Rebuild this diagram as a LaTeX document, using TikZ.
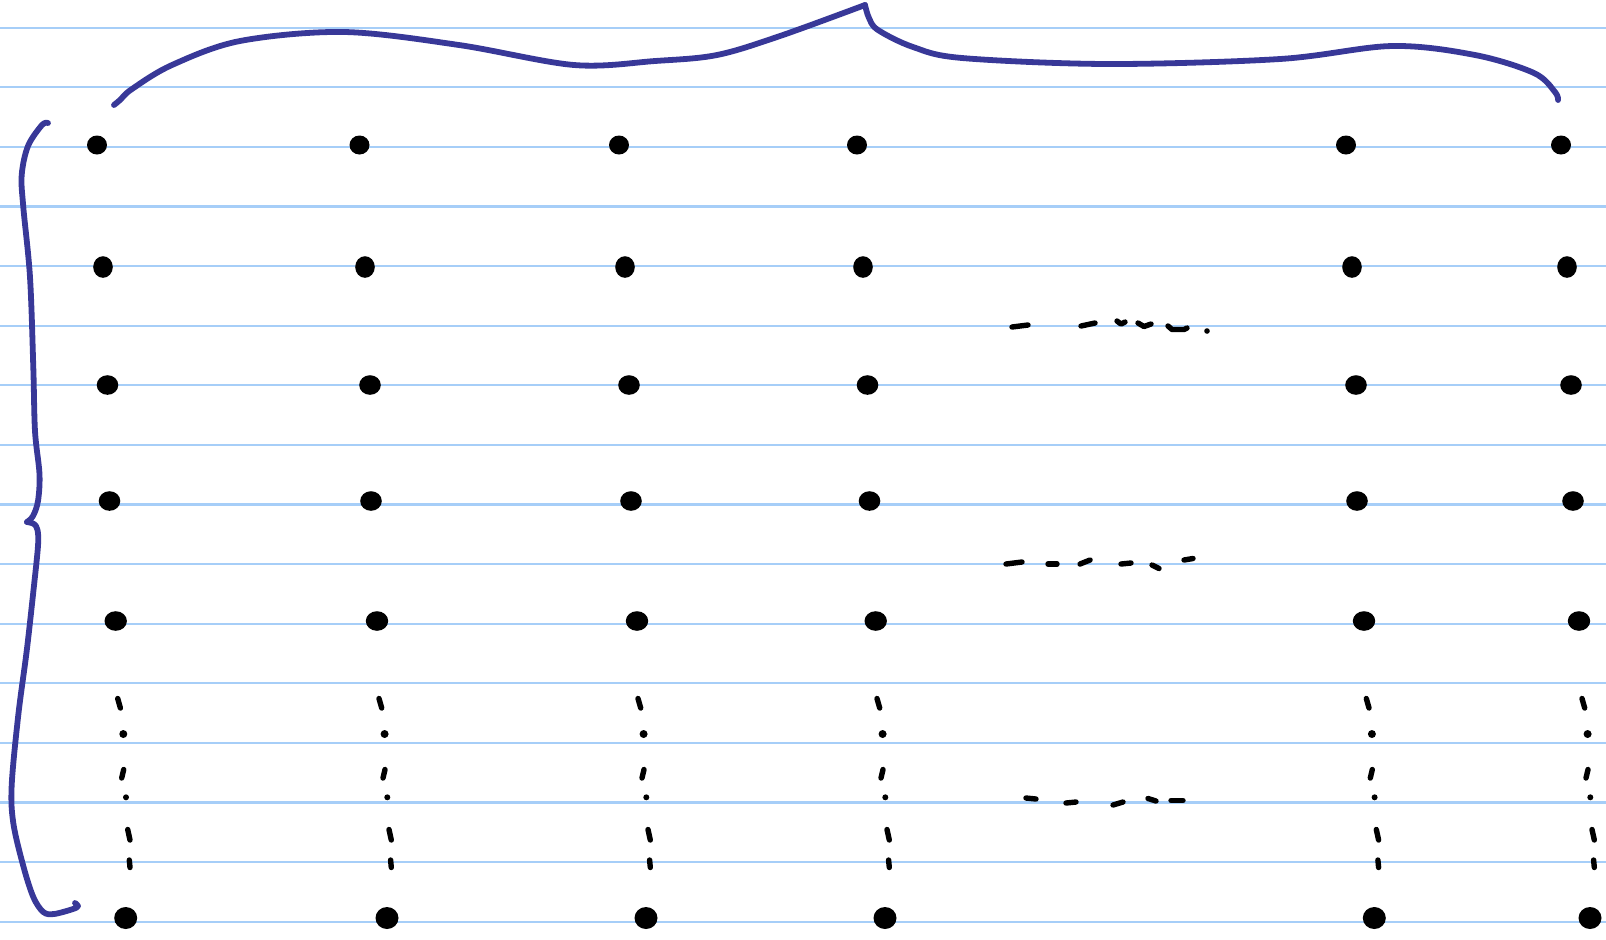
\documentclass[tikz,border=0pt]{standalone}
\usetikzlibrary{shapes.geometric}
\definecolor{rule}{RGB}{166,206,248}
\definecolor{ink}{RGB}{56,56,152}
\begin{document}
\begin{tikzpicture}[x=0.5pt,y=-0.5pt,
  ruleline/.style={draw=rule,line width=1.1pt},
  bracepath/.style={draw=ink,line width=2.9pt,line cap=round,line join=round},
  bigdot/.style 2 args={ellipse,fill=black,draw=none,inner sep=0pt,minimum width=#1,minimum height=#2},
  penmark/.style={draw=black,line width=2.7pt,line cap=round,line join=round}]
\useasboundingbox (0,0) rectangle (1606,939);
\fill[white] (0,0) rectangle (1606,939);
% ruled paper
\foreach \k in {0,...,15}
  \draw[ruleline] (0,{27.7+59.6*\k}) -- (1606,{27.7+59.6*\k});
% top brace
\draw[bracepath] plot[smooth,tension=0.55] coordinates {(114,105) (120,100) (132,89) (172,65) (240,41) (344,32) (459,45) (574,65) (655,61) (717,55) (780,36) (865,5)};
\draw[bracepath] plot[smooth,tension=0.55] coordinates {(865,5) (869,18) (878,30) (913,47) (962,58) (1108,64) (1280,59) (1392,46) (1475,55) (1534,73) (1555,92) (1558,100)};
% left brace
\draw[bracepath] plot[smooth,tension=0.55] coordinates {(48,123) (42,125) (28,146) (21.7,175) (23.3,207) (30,277) (33.3,367) (35,431) (39.5,474) (38,501) (33,516) (27,522)};
\draw[bracepath] plot[smooth,tension=0.55] coordinates {(27,522) (34,524) (37.5,530) (38,546) (33.3,592) (26.7,651) (18.3,715) (11.7,785) (13.3,823) (23.3,866) (33.3,897) (43.3,912) (54,914) (73,909) (78,906) (75,903)};
% dots, row 1
\node[bigdot={10pt}{9.5pt}] (r1c1) at (97,145) {};
\node[bigdot={10pt}{9.5pt}] (r1c2) at (359.5,145) {};
\node[bigdot={10pt}{9.5pt}] (r1c3) at (619,145) {};
\node[bigdot={10pt}{9.5pt}] (r1c4) at (857,145) {};
\node[bigdot={10pt}{9.5pt}] (r1c5) at (1346,145) {};
\node[bigdot={10pt}{9.5pt}] (r1c6) at (1561,145) {};
% row 2
\node[bigdot={9.8pt}{10.8pt}] (r2c1) at (103,267) {};
\node[bigdot={9.8pt}{10.8pt}] (r2c2) at (365,267) {};
\node[bigdot={9.8pt}{10.8pt}] (r2c3) at (625,267) {};
\node[bigdot={9.8pt}{10.8pt}] (r2c4) at (863,267) {};
\node[bigdot={9.8pt}{10.8pt}] (r2c5) at (1352,267) {};
\node[bigdot={9.8pt}{10.8pt}] (r2c6) at (1567,267) {};
% row 3
\node[bigdot={10.8pt}{9.8pt}] (r3c1) at (107.5,385) {};
\node[bigdot={10.8pt}{9.8pt}] (r3c2) at (370,385) {};
\node[bigdot={10.8pt}{9.8pt}] (r3c3) at (629,385) {};
\node[bigdot={10.8pt}{9.8pt}] (r3c4) at (867.5,385) {};
\node[bigdot={10.8pt}{9.8pt}] (r3c5) at (1356,385) {};
\node[bigdot={10.8pt}{9.8pt}] (r3c6) at (1571,385) {};
% row 4
\node[bigdot={10.8pt}{9.8pt}] (r4c1) at (109.5,501) {};
\node[bigdot={10.8pt}{9.8pt}] (r4c2) at (371,501) {};
\node[bigdot={10.8pt}{9.8pt}] (r4c3) at (631,501) {};
\node[bigdot={10.8pt}{9.8pt}] (r4c4) at (869.5,501) {};
\node[bigdot={10.8pt}{9.8pt}] (r4c5) at (1357,501) {};
\node[bigdot={10.8pt}{9.8pt}] (r4c6) at (1573,501) {};
% row 5
\node[bigdot={11.2pt}{9.8pt}] (r5c1) at (115.7,621) {};
\node[bigdot={11.2pt}{9.8pt}] (r5c2) at (377,621) {};
\node[bigdot={11.2pt}{9.8pt}] (r5c3) at (637,621) {};
\node[bigdot={11.2pt}{9.8pt}] (r5c4) at (875.7,621) {};
\node[bigdot={11.2pt}{9.8pt}] (r5c5) at (1364,621) {};
\node[bigdot={11.2pt}{9.8pt}] (r5c6) at (1579,621) {};
% last row
\node[bigdot={11.5pt}{11pt}] (r6c1) at (125.7,918) {};
\node[bigdot={11.5pt}{11pt}] (r6c2) at (387,918) {};
\node[bigdot={11.5pt}{11pt}] (r6c3) at (646,918) {};
\node[bigdot={11.5pt}{11pt}] (r6c4) at (885,918) {};
\node[bigdot={11.5pt}{11pt}] (r6c5) at (1374.3,918) {};
\node[bigdot={11.5pt}{11pt}] (r6c6) at (1590,918) {};
% vertical dot-dash marks
\foreach \x in {125.7,387,646,885,1374.3,1590} {
  \draw[penmark] ({\x-8},698.5) -- ({\x-5.3},708);
  \fill ({\x-2.4},734) circle[radius=2pt];
  \draw[penmark] ({\x-2},769.5) -- ({\x-4},778);
  \fill ({\x+0.3},797.3) circle[radius=1.5pt];
  \draw[penmark] ({\x+2},829.5) -- ({\x+4.3},840);
  \draw[penmark] ({\x+3.6},860) -- ({\x+4.3},867.5);
}
% horizontal marks, first row
\draw[penmark] (1012,327) -- (1028,325);
\draw[penmark] (1081,326) -- (1095,323);
\draw[penmark] (1117,321) -- (1121,324) -- (1125,322);
\draw[penmark] (1138,323) -- (1144,326.5) -- (1151,324);
\draw[penmark] (1168,326) -- (1172,329.5) -- (1184,329.5) -- (1187,328);
\fill (1207,331) circle[radius=1.4pt];
% horizontal marks, second row
\draw[penmark] (1006,564) -- (1022,562);
\draw[penmark] (1048,564) -- (1057,564);
\draw[penmark] (1080,564) -- (1090,560);
\draw[penmark] (1121,564) -- (1131,563);
\draw[penmark] (1152,565) -- (1159,568.5);
\draw[penmark] (1184,560) -- (1193,558.5);
% horizontal marks, third row
\draw[penmark] (1026,798) -- (1036,799);
\draw[penmark] (1066,803) -- (1076,802);
\draw[penmark] (1113,805) -- (1123,802);
\draw[penmark] (1148,798.5) -- (1156,801);
\draw[penmark] (1171,800.5) -- (1183,800.5);
\end{tikzpicture}
\end{document}
